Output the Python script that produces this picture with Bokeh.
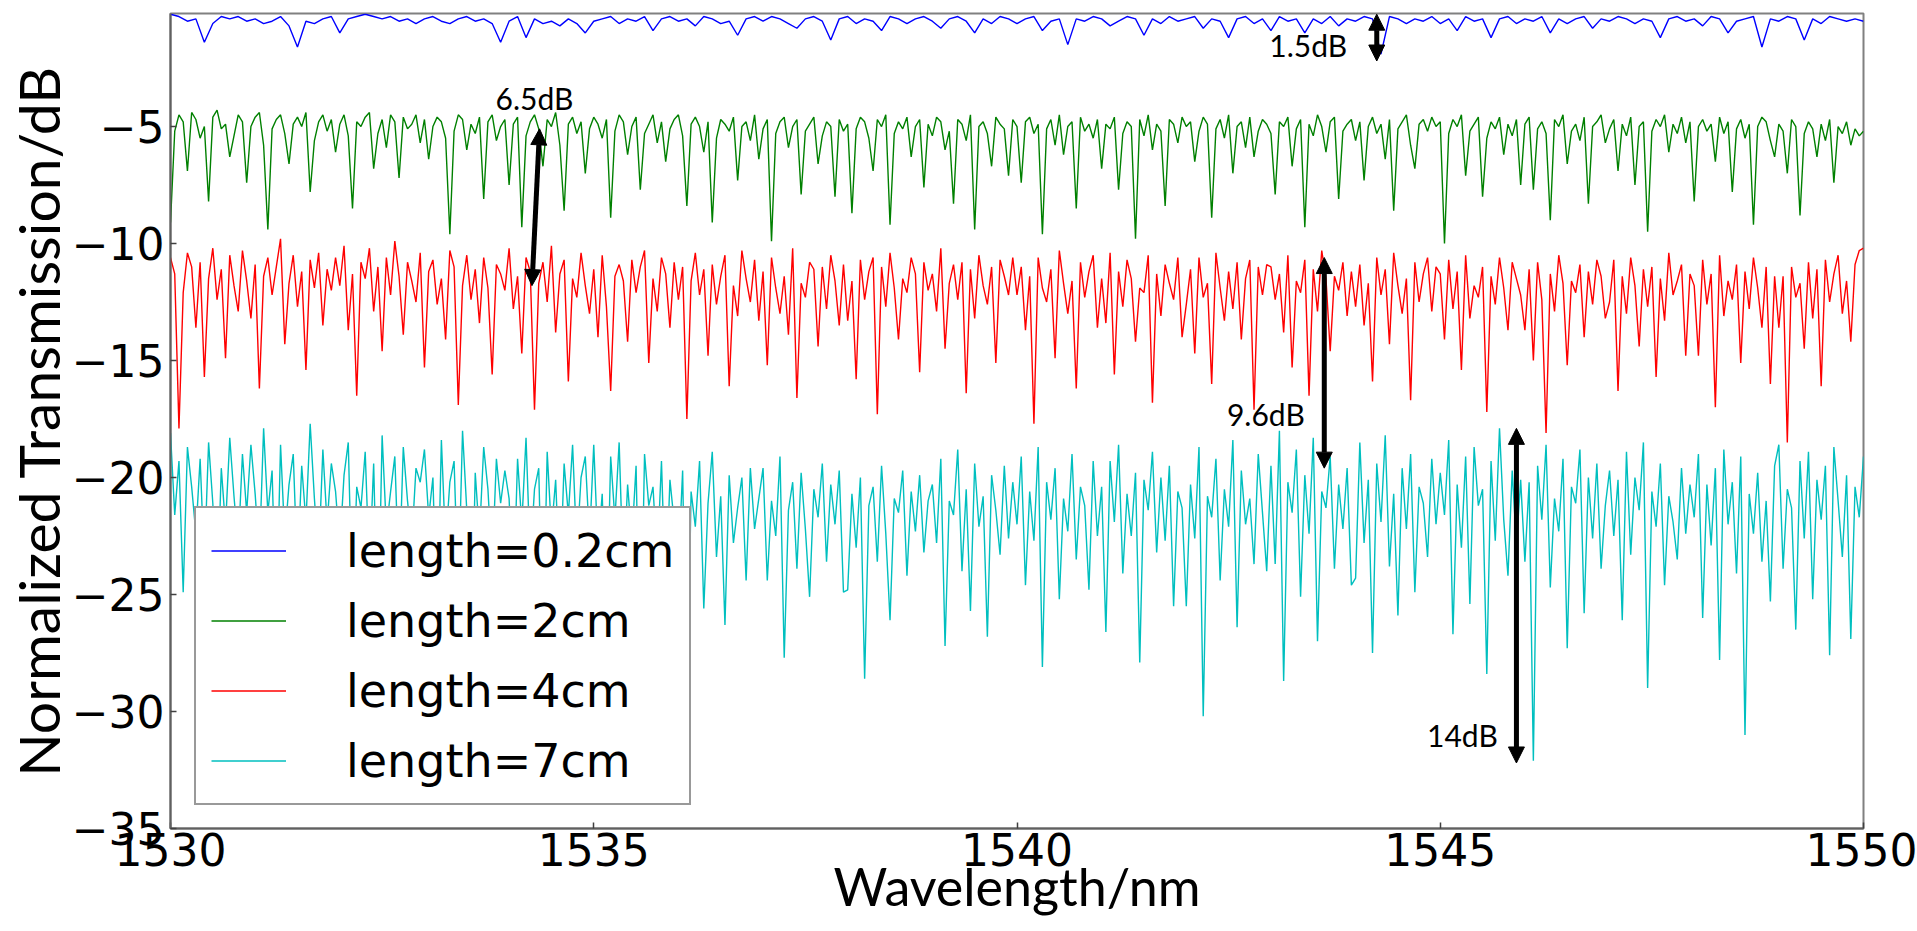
import numpy as np
from bokeh.plotting import figure
from bokeh.models import Range1d, FixedTicker, Legend, LegendItem, Arrow, NormalHead, Label
from bokeh.embed import file_html
from bokeh.resources import INLINE

# ---------------- data ----------------
wl_start, wl_end = 1530.0, 1550.0

t_0p2cm = [
    -0.2, -0.3, -0.5, -0.4, -1.4, -0.6, -0.3, -0.4, -0.3, -0.5,
    -0.4, -0.6, -0.5, -0.3, -0.7, -1.6, -0.5, -0.6, -0.4, -0.3,
    -1.0, -0.4, -0.3, -0.2, -0.3, -0.4, -0.3, -0.5, -0.4, -0.6,
    -0.4, -0.3, -0.5, -0.6, -0.4, -0.3, -0.5, -0.4, -0.6, -1.4,
    -0.5, -0.3, -1.2, -0.4, -0.6, -0.5, -0.7, -0.4, -0.6, -1.0,
    -0.5, -0.4, -0.3, -0.6, -0.4, -0.5, -0.3, -0.9, -0.4, -0.3,
    -0.5, -0.4, -0.7, -0.3, -0.4, -0.6, -0.5, -1.1, -0.4, -0.3,
    -0.5, -0.3, -0.4, -0.6, -0.8, -0.4, -0.3, -0.5, -1.3, -0.4,
    -0.3, -0.6, -0.4, -0.5, -0.9, -0.3, -0.4, -0.6, -0.4, -0.3,
    -0.5, -0.8, -0.4, -0.3, -0.5, -1.0, -0.4, -0.6, -0.3, -0.4,
    -0.6, -0.4, -0.3, -0.9, -0.5, -0.4, -1.5, -0.4, -0.5, -0.3,
    -0.4, -0.7, -0.5, -0.3, -0.4, -1.1, -0.4, -0.6, -0.3, -0.5,
    -0.4, -0.3, -0.8, -0.4, -0.5, -1.2, -0.4, -0.3, -0.6, -0.4,
    -0.9, -0.3, -0.5, -0.4, -1.0, -0.4, -0.6, -0.3, -0.7, -0.4,
    -0.5, -0.3, -0.4, -1.9, -0.3, -0.4, -0.6, -0.4, -0.5, -0.3,
    -0.6, -0.4, -0.9, -0.3, -0.5, -0.4, -1.2, -0.4, -0.3, -0.6,
    -0.4, -0.5, -0.3, -1.0, -0.4, -0.6, -0.4, -0.3, -0.8, -0.4,
    -0.5, -0.3, -0.4, -0.6, -0.4, -0.5, -1.2, -0.4, -0.3, -0.5,
    -0.4, -0.7, -0.3, -0.4, -1.0, -0.5, -0.4, -0.3, -1.6, -0.4,
    -0.5, -0.3, -0.4, -1.3, -0.4, -0.6, -0.3, -0.4, -0.5, -0.4,
    -0.5,
]

t_2cm = [
    -9.1, -5.2, -4.5, -4.8, -6.9, -4.4, -4.7, -5.5, -5.0, -8.2, -4.6, -4.3, -5.1, -4.9, -6.3, -5.4, -4.5, -4.8, -7.4, -5.0,
    -4.6, -4.4, -5.8, -9.4, -5.1, -4.7, -4.5, -5.3, -6.6, -4.9, -4.6, -5.0, -4.4, -7.8, -5.6, -4.8, -4.5, -5.2, -4.7, -6.1,
    -4.9, -4.5, -5.4, -8.5, -4.8, -5.0, -4.6, -4.4, -6.8, -5.3, -4.7, -5.9, -4.5, -4.8, -7.2, -4.6, -5.1, -4.9, -4.5, -5.7,
    -4.7, -6.4, -5.0, -4.6, -4.8, -5.5, -9.6, -5.2, -4.5, -4.7, -6.0, -4.9, -5.3, -4.6, -8.1, -4.8, -4.5, -5.6, -5.0, -4.7,
    -7.5, -4.9, -4.6, -9.3, -5.4, -4.8, -4.5, -5.1, -6.7, -4.7, -5.0, -4.4, -5.8, -8.6, -4.9, -4.6, -5.3, -4.8, -7.0, -5.1,
    -4.6, -4.9, -5.5, -4.7, -8.9, -5.2, -4.5, -4.8, -6.2, -5.0, -4.6, -7.7, -5.3, -4.9, -4.5, -5.7, -4.8, -6.5, -5.1, -4.7,
    -4.5, -5.4, -8.4, -4.9, -4.6, -5.0, -6.1, -4.8, -9.1, -5.5, -4.7, -4.9, -5.2, -4.6, -7.3, -5.0, -4.8, -5.6, -4.5, -6.4,
    -5.1, -4.7, -9.9, -5.3, -4.8, -4.6, -5.9, -5.0, -4.7, -7.9, -5.2, -4.9, -4.6, -6.6, -5.4, -4.8, -5.0, -8.0, -4.7, -5.2,
    -4.9, -8.7, -5.1, -4.6, -4.8, -5.5, -6.9, -4.7, -5.0, -4.5, -9.2, -5.3, -4.8, -5.1, -4.6, -6.3, -5.0, -4.7, -7.6, -4.9,
    -5.4, -4.6, -4.8, -6.0, -5.2, -8.3, -4.7, -4.9, -5.6, -4.5, -9.4, -5.0, -4.8, -5.3, -6.7, -4.6, -4.9, -5.1, -7.1, -4.7,
    -5.0, -7.4, -4.8, -4.6, -5.3, -4.9, -9.6, -5.1, -4.7, -5.8, -4.5, -6.2, -5.0, -4.8, -8.5, -4.6, -5.2, -4.9, -5.5, -4.7,
    -6.8, -4.9, -5.1, -4.6, -7.7, -5.3, -4.8, -5.0, -9.8, -4.7, -5.4, -4.5, -6.0, -4.9, -5.2, -8.4, -4.7, -4.9, -5.7, -4.6,
    -5.0, -4.8, -6.5, -5.2, -4.6, -4.9, -8.9, -5.1, -4.7, -5.5, -4.5, -7.0, -5.0, -4.8, -5.9, -4.6, -6.3, -5.2, -4.7, -4.9,
    -5.3, -7.9, -4.8, -5.0, -4.6, -6.7, -5.1, -4.7, -9.3, -4.9, -5.4, -4.5, -5.0, -6.1, -4.8, -4.6, -8.1, -5.2, -4.9, -4.7,
    -5.6, -4.8, -7.3, -5.0, -4.6, -5.3, -4.9, -6.4, -4.7, -8.6, -5.1, -4.8, -4.5, -5.8, -6.8, -4.9, -4.7, -5.2, -4.6, -5.0,
    -4.8, -10.0, -5.3, -4.7, -5.0, -4.5, -7.1, -5.2, -4.9, -4.6, -8.0, -5.5, -4.8, -5.1, -4.6, -6.2, -4.9, -5.4, -4.7, -7.5,
    -4.9, -4.6, -7.7, -5.1, -4.8, -5.3, -9.0, -4.7, -5.0, -4.5, -6.6, -5.2, -4.9, -5.6, -4.6, -8.3, -5.0, -4.8, -4.5, -5.7,
    -5.1, -4.7, -6.9, -4.9, -5.4, -4.6, -7.5, -5.0, -4.8, -9.5, -5.2, -4.7, -5.0, -4.5, -6.1, -4.9, -5.3, -4.6, -5.7, -4.8,
    -8.2, -5.0, -4.7, -5.2, -4.9, -6.5, -4.6, -5.3, -4.8, -7.8, -5.1, -4.7, -5.5, -4.9, -9.2, -5.0, -4.6, -4.8, -5.6, -6.3,
    -4.9, -5.2, -7.0, -4.7, -5.0, -8.8, -5.3, -4.8, -5.1, -6.3, -4.9, -5.6, -4.7, -7.4, -5.0, -5.3, -4.8, -5.8, -5.1, -5.4,
    -5.2,
]

t_4cm = [
    -10.6, -11.3, -17.9, -12.1, -10.4, -11.0, -13.6, -10.8, -15.7, -11.5, -10.2, -12.4, -11.1, -14.9, -10.5, -11.8, -12.9, -10.3, -11.6, -13.2,
    -10.9, -16.2, -11.4, -10.6, -12.2, -11.0, -9.8, -14.3, -11.7, -10.5, -12.7, -11.2, -15.4, -10.7, -11.9, -10.4, -13.5, -11.1, -12.0, -10.6,
    -11.8, -10.1, -13.7, -11.3, -16.5, -10.8, -11.5, -10.2, -12.9, -11.0, -14.6, -10.6, -12.2, -9.9, -11.4, -13.9, -10.8, -11.6, -12.5, -10.4,
    -15.3, -11.2, -10.7, -12.6, -11.5, -14.1, -10.3, -11.0, -16.9, -11.8, -10.5, -12.4, -11.1, -13.4, -10.6, -11.9, -15.6, -10.9, -11.3, -12.0,
    -10.2, -12.8, -11.4, -14.7, -10.6, -11.2, -17.1, -11.7, -10.8, -12.5, -10.1, -13.8, -11.3, -10.7, -15.9, -11.5, -12.3, -10.4, -11.8, -13.0,
    -11.1, -14.0, -10.5, -12.7, -16.3, -11.4, -10.9, -11.6, -14.2, -10.7, -12.1, -11.0, -10.3, -15.1, -11.5, -12.9, -10.6, -11.3, -13.6, -10.8,
    -12.4, -11.0, -17.5, -11.6, -10.4, -12.2, -11.1, -14.8, -10.9, -12.6, -11.4, -10.5, -16.1, -11.8, -13.1, -10.3, -11.5, -12.5, -10.7, -13.3,
    -11.2, -15.2, -10.6, -11.9, -13.0, -11.4, -13.9, -10.2, -16.6, -11.7, -12.3, -10.8, -11.1, -14.4, -11.0, -12.8, -10.5, -11.6, -13.5, -10.9,
    -13.3, -11.6, -15.8, -10.7, -12.4, -11.2, -10.6, -17.3, -11.0, -12.7, -10.4, -11.9, -14.1, -11.5, -12.1, -10.6, -11.3, -15.5, -10.8, -12.0,
    -11.3, -12.9, -10.2, -14.5, -11.7, -10.9, -12.4, -10.8, -16.4, -11.1, -13.2, -10.5, -11.8, -12.6, -11.0, -15.1, -10.7, -11.4, -12.2, -10.6,
    -12.2, -11.0, -13.7, -11.4, -17.7, -10.6, -11.9, -12.5, -11.1, -14.9, -10.3, -11.7, -13.0, -11.6, -16.2, -10.8, -12.3, -11.2, -10.5, -13.6,
    -11.5, -13.4, -10.4, -15.6, -11.2, -12.7, -10.7, -11.5, -14.2, -11.9, -12.1, -10.5, -16.8, -11.3, -13.1, -10.9, -11.7, -12.4, -10.6, -14.0,
    -12.6, -11.1, -14.7, -10.6, -12.3, -11.7, -16.0, -10.4, -11.9, -13.3, -11.2, -12.8, -10.8, -14.1, -11.5, -10.7, -17.1, -11.0, -12.2, -10.9,
    -11.0, -12.4, -11.3, -13.8, -10.5, -15.3, -11.6, -12.1, -10.7, -16.5, -11.1, -12.9, -10.3, -11.5, -14.6, -11.4, -12.0, -10.8, -13.1, -11.2,
    -12.7, -10.9, -13.5, -11.7, -15.9, -10.6, -12.2, -11.1, -14.3, -10.4, -11.8, -13.0, -11.5, -16.7, -10.8, -12.5, -11.3, -10.6, -12.9, -11.0,
    -11.3, -14.1, -10.7, -12.8, -11.2, -15.4, -10.5, -13.2, -11.8, -12.3, -11.0, -17.2, -11.4, -12.6, -10.6, -11.9, -13.7, -10.8, -11.5, -12.2,
    -13.7, -11.1, -15.0, -10.8, -12.4, -18.1, -11.3, -12.9, -10.5, -11.7, -15.2, -11.6, -12.1, -10.9, -14.0, -11.2, -12.6, -10.7, -11.4, -13.2,
    -12.5, -10.7, -16.3, -11.4, -13.0, -10.6, -11.8, -14.4, -11.1, -12.7, -11.0, -15.7, -11.5, -13.3, -10.4, -12.2, -11.6, -10.9, -14.8, -11.3,
    -11.8, -14.8, -10.7, -12.6, -11.3, -17.0, -10.5, -13.1, -11.6, -12.4, -10.9, -15.1, -11.2, -12.8, -10.6, -11.9, -13.6, -11.0, -16.0, -11.4,
    -13.6, -11.4, -18.5, -11.0, -12.3, -11.7, -14.5, -10.8, -13.2, -11.1, -16.1, -10.7, -12.5, -11.3, -10.5, -13.0, -11.6, -14.2, -10.9, -10.3,
    -10.2,
]

t_7cm = [
    -18.1, -21.6, -19.3, -24.9, -18.7, -20.4, -22.4, -19.2, -23.7, -18.5, -21.1, -25.4, -19.6, -22.1, -18.3, -20.8, -23.0, -19.0, -21.5, -18.6,
    -20.7, -23.3, -17.9, -21.5, -19.7, -26.2, -18.6, -22.6, -20.3, -19.0, -24.1, -19.5, -21.9, -17.7, -20.9, -23.5, -18.8, -22.0, -19.4, -20.6,
    -23.0, -19.9, -18.5, -25.8, -20.4, -21.3, -18.9, -24.0, -19.4, -27.1, -18.2, -22.2, -20.6, -19.1, -24.5, -18.7, -21.0, -22.8, -19.6, -20.2,
    -18.8, -21.7, -20.0, -26.5, -18.4, -22.9, -20.2, -19.3, -25.0, -18.0, -21.4, -28.3, -19.8, -22.5, -18.7, -20.5, -23.8, -19.2, -21.1, -19.7,
    -20.9, -25.3, -19.2, -22.0, -18.3, -23.5, -20.5, -19.6, -27.4, -18.9, -22.3, -20.1, -24.7, -19.4, -21.6, -18.6, -23.1, -20.0, -19.1, -22.7,
    -18.6, -23.1, -20.7, -26.9, -19.1, -21.8, -18.5, -24.3, -20.3, -22.7, -19.5, -28.9, -19.0, -21.2, -20.4, -23.6, -19.3, -25.2, -20.1, -21.9,
    -23.8, -19.7, -30.3, -20.6, -22.1, -19.3, -25.6, -21.1, -18.9, -23.4, -20.8, -26.3, -19.9, -22.8, -21.3, -20.0, -24.4, -19.6, -22.2, -20.9,
    -19.6, -24.4, -21.0, -22.5, -19.1, -27.7, -21.4, -20.2, -23.9, -19.8, -22.2, -25.1, -20.5, -21.7, -19.4, -23.6, -20.3, -22.0, -19.7, -24.9,
    -24.8, -20.7, -23.0, -20.0, -28.6, -21.2, -20.4, -23.6, -19.5, -22.4, -26.1, -20.9, -21.5, -19.7, -24.2, -20.6, -22.3, -19.9, -23.2, -21.0,
    -20.3, -22.8, -19.2, -27.2, -21.0, -21.6, -18.8, -24.0, -20.5, -25.7, -19.4, -22.1, -20.8, -26.8, -19.9, -21.4, -23.3, -19.5, -22.6, -20.2,
    -22.0, -19.1, -24.6, -20.6, -22.7, -18.7, -28.1, -20.2, -21.8, -19.6, -25.2, -20.9, -22.3, -19.0, -23.5, -20.4, -21.2, -24.8, -19.3, -22.5,
    -20.4, -26.6, -19.3, -21.9, -18.6, -24.1, -20.7, -22.5, -19.8, -27.9, -20.1, -21.4, -18.9, -23.2, -20.0, -22.7, -19.5, -25.5, -20.6, -21.3,
    -25.5, -20.3, -22.6, -18.7, -30.2, -20.8, -21.7, -19.2, -24.4, -20.5, -22.1, -18.4, -26.4, -19.7, -22.0, -20.9, -23.7, -19.0, -21.5, -24.0,
    -19.5, -23.7, -18.0, -28.7, -20.2, -21.5, -18.8, -25.1, -19.9, -22.4, -18.3, -27.0, -20.6, -21.3, -19.1, -23.9, -20.3, -22.2, -19.6, -24.6,
    -24.3, -18.5, -22.8, -20.1, -27.5, -19.4, -21.9, -18.2, -23.8, -20.7, -25.9, -19.6, -22.2, -19.0, -24.9, -20.4, -21.1, -23.4, -19.2, -22.0,
    -19.8, -21.6, -18.4, -26.7, -20.3, -23.0, -19.1, -25.4, -18.7, -21.2, -20.5, -28.4, -19.3, -22.7, -17.9, -21.8, -24.2, -19.7, -22.9, -20.1,
    -23.6, -20.2, -32.1, -19.5, -21.8, -18.6, -24.7, -20.9, -22.3, -19.2, -27.3, -20.4, -21.1, -18.8, -25.8, -20.0, -22.6, -19.4, -23.9, -21.2,
    -19.7, -22.5, -20.1, -26.1, -18.9, -23.3, -20.0, -21.4, -18.5, -29.0, -20.6, -22.1, -19.4, -24.6, -20.8, -21.9, -23.5, -19.6, -22.4, -20.3,
    -21.7, -19.0, -26.0, -20.3, -22.9, -19.6, -27.8, -18.8, -22.0, -20.2, -24.1, -19.1, -31.0, -20.7, -22.4, -19.8, -23.6, -21.0, -25.3, -19.5,
    -18.6, -23.9, -20.5, -21.3, -26.5, -19.3, -22.6, -18.9, -25.2, -20.1, -21.8, -19.5, -27.6, -18.7, -21.0, -23.4, -19.9, -26.9, -20.4, -21.7,
    -19.1,
]

series_values = [t_0p2cm, t_2cm, t_4cm, t_7cm]
series_labels = ["length=0.2cm", "length=2cm", "length=4cm", "length=7cm"]
series_colors = ["#0000ff", "#008000", "#ff0000", "#00bfbf"]

x_ticks = [1530, 1535, 1540, 1545, 1550]
y_ticks = [-35, -30, -25, -20, -15, -10, -5]
y_bottom, y_top = -35.0, -0.17

# extinction-ratio annotations (double arrows + text)
ann_text = ["1.5dB", "6.5dB", "9.6dB", "14dB"]
ann_x_top = [1544.25, 1534.36, 1543.63, 1545.90]
ann_x_bot = [1544.25, 1534.27, 1543.63, 1545.90]
ann_y_top = [-0.2, -5.1, -10.6, -17.9]
ann_y_bot = [-2.2, -11.8, -19.6, -32.2]
ann_label_x = [1543.90, 1534.30, 1543.40, 1545.68]
ann_label_y = [-1.5, -3.8, -17.3, -31.0]
ann_label_align = ["right", "center", "right", "right"]

# ---------------- figure ----------------
p = figure(
    width=1917, height=931,
    x_range=Range1d(wl_start, wl_end), y_range=Range1d(y_bottom, y_top),
    output_backend="svg", toolbar_location=None,
    min_border_left=168, min_border_right=54, min_border_top=13, min_border_bottom=103,
)
p.background_fill_color = "white"
p.border_fill_color = "white"
p.xgrid.visible = False
p.ygrid.visible = False
p.outline_line_color = "#808080"
p.outline_line_width = 2

renderers = []
for vals, col in zip(series_values, series_colors):
    xs = np.linspace(wl_start, wl_end, len(vals))
    r = p.line(xs, vals, line_color=col, line_width=1.4)
    renderers.append(r)

for ax, ticks in ((p.xaxis, x_ticks), (p.yaxis, y_ticks)):
    ax.ticker = FixedTicker(ticks=ticks)
    ax.minor_tick_line_color = None
    ax.major_tick_in = 6
    ax.major_tick_out = 0
    ax.major_tick_line_color = "#404040"
    ax.major_tick_line_width = 1.5
    ax.axis_line_color = "#606060"
    ax.axis_line_width = 2
    ax.major_label_text_font = "DejaVu Sans"
    ax.major_label_text_font_size = "44px"
    ax.major_label_text_color = "black"
    ax.axis_label_text_font = "Lato"
    ax.axis_label_text_font_style = "normal"
    ax.axis_label_text_color = "black"

p.yaxis.major_label_overrides = {t: "\u2212" + str(-t) for t in y_ticks}
p.yaxis.major_label_standoff = 6
p.xaxis.major_label_standoff = 4
p.xaxis.axis_label = "Wavelength/nm"
p.yaxis.axis_label = "Normalized Transmission/dB"
p.xaxis.axis_label_text_font_size = "52px"
p.yaxis.axis_label_text_font_size = "57px"
p.xaxis.axis_label_standoff = -14
p.yaxis.axis_label_standoff = -3

# arrows and their texts
for i in range(len(ann_text)):
    p.add_layout(Arrow(
        x_start=ann_x_bot[i], y_start=ann_y_bot[i], x_end=ann_x_top[i], y_end=ann_y_top[i],
        line_color="black", line_width=5,
        start=NormalHead(size=16, fill_color="black", line_color="black"),
        end=NormalHead(size=16, fill_color="black", line_color="black"),
    ))
    p.add_layout(Label(x=ann_label_x[i], y=ann_label_y[i], text=ann_text[i],
                       text_font="Lato", text_font_size="30px", text_color="black",
                       text_align=ann_label_align[i], text_baseline="middle"))

legend = Legend(
    items=[LegendItem(label=lab, renderers=[r]) for lab, r in zip(series_labels, renderers)],
    location=(24, 23), margin=0, padding=15, spacing=15,
    glyph_width=75, glyph_height=55, label_height=55, label_standoff=60,
    label_text_font="DejaVu Sans", label_text_font_size="46px", label_text_color="black",
    border_line_color="#333333", border_line_width=2,
    background_fill_color="white", background_fill_alpha=1.0,
)
p.add_layout(legend)

open("out.html", "w").write(file_html(p, INLINE))
